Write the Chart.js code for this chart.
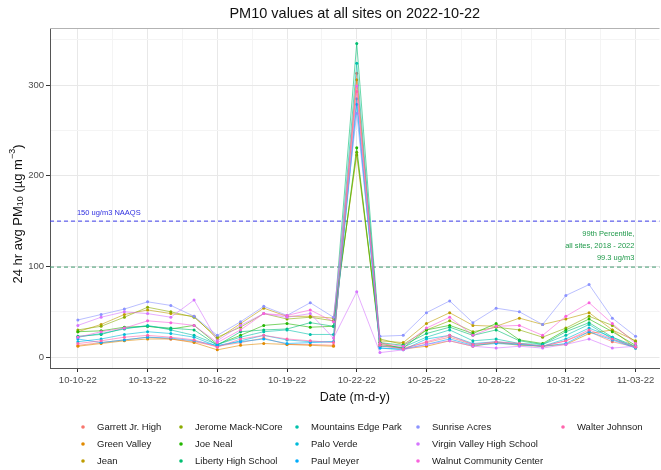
<!DOCTYPE html>
<html><head><meta charset="utf-8">
<script src="https://cdn.jsdelivr.net/npm/chart.js@4/dist/chart.umd.min.js"></script>
<style>html,body{margin:0;padding:0;background:#fff;overflow:hidden}#wrap{width:661px;height:470px;position:relative}</style>
</head><body><div id="wrap"><canvas id="c" width="661" height="470"></canvas></div>
<script>
const dates = ['10-10-22','10-11-22','10-12-22','10-13-22','10-14-22','10-15-22','10-16-22','10-17-22','10-18-22','10-19-22','10-20-22','10-21-22','10-22-22','10-23-22','10-24-22','10-25-22','10-26-22','10-27-22','10-28-22','10-29-22','10-30-22','10-31-22','11-01-22','11-02-22','11-03-22'];
const tickLabels = ['10-10-22','10-13-22','10-16-22','10-19-22','10-22-22','10-25-22','10-28-22','10-31-22','11-03-22'];
const yTickValues = [0,100,200,300];
const sites = ['Garrett Jr. High','Green Valley','Jean','Jerome Mack-NCore','Joe Neal','Liberty High School','Mountains Edge Park','Palo Verde','Paul Meyer','Sunrise Acres','Virgin Valley High School','Walnut Community Center','Walter Johnson'];
const siteColors = ['#F8766D','#E18A00','#BE9C00','#8CAB00','#24B700','#00BE70','#00C1AB','#00BBDA','#00ACFC','#8B93FF','#D575FE','#F962DD','#FF65AC'];

const garrettJrHigh    = [13,16,19,22,20,17,12,16,21,14,14,13,313,12,10,16,22,14,16,15,12,18,28,17,11];
const greenValley      = [12,15,18,20,20,16,8,13,15,14,13,12,306,16,9,12,18,12,16,13,12,14,26,30,10];
const jean             = [28,36,47,52,48,45,20,37,54,45,45,43,223,18,16,37,49,35,34,43,36,42,49,30,18];
const jeromeMack       = [30,34,44,55,50,44,22,33,48,42,44,40,226,20,14,30,40,28,33,30,22,32,45,35,17];
const joeNeal          = [28,29,33,34,31,35,14,24,35,37,33,34,231,14,10,30,35,26,37,19,15,30,42,28,13];
const libertyHigh      = [23,25,32,34,32,30,13,28,30,31,38,34,346,16,13,26,33,24,30,18,14,28,38,22,12];
const mountainsEdge    = [22,26,31,35,30,24,14,22,28,30,25,25,324,12,11,22,30,18,20,15,14,24,36,20,11];
const paloVerde        = [17,20,25,28,26,22,12,18,24,19,17,17,285,10,8,20,24,15,17,14,12,20,32,22,10];
const paulMeyer        = [20,16,19,22,21,18,13,17,20,15,16,17,279,10,9,14,20,13,15,14,12,15,28,19,10];
const sunriseAcres     = [41,47,53,61,57,45,24,39,56,46,60,44,269,23,24,49,62,38,54,50,36,68,80,43,23];
const virginValley     = [35,44,50,48,44,63,18,35,48,44,48,21,72,5,8,14,18,12,10,12,10,14,20,10,12];
const walnutCommunity  = [22,28,32,40,38,35,16,30,48,46,52,39,299,15,12,32,44,24,34,35,24,45,60,37,15];
const walterJohnson    = [15,18,22,24,22,19,11,20,24,20,18,16,293,13,9,17,24,14,17,15,12,18,30,20,11];

const seriesValues = [garrettJrHigh,greenValley,jean,jeromeMack,joeNeal,libertyHigh,mountainsEdge,paloVerde,paulMeyer,sunriseAcres,virginValley,walnutCommunity,walterJohnson];

const naaqs = 150;
const pct99 = 99.3;

function hexA(hex, a){
  const r=parseInt(hex.slice(1,3),16),g=parseInt(hex.slice(3,5),16),b=parseInt(hex.slice(5,7),16);
  return `rgba(${r},${g},${b},${a})`;
}

const datasets = sites.map((s,i)=>({
  label: s,
  data: seriesValues[i].map((v,j)=>({x:j,y:v})),
  borderColor: hexA(siteColors[i],0.75),
  backgroundColor: siteColors[i],
  pointBackgroundColor: siteColors[i],
  pointBorderWidth: 0,
  pointRadius: 1.5,
  pointHoverRadius: 1.5,
  borderWidth: 0.8,
  tension: 0,
  order: -i
}));

const FONT = '"Liberation Sans", Arial, sans-serif';

const deco = {
  id:'deco',
  beforeDatasetsDraw(chart){
    const {ctx, chartArea:a, scales:{x,y}} = chart;
    ctx.save();
    ctx.lineWidth = 1;
    ctx.setLineDash([4,3]);
    let py = y.getPixelForValue(naaqs);
    ctx.strokeStyle = '#3b3bea';
    ctx.beginPath(); ctx.moveTo(a.left,py); ctx.lineTo(a.right,py); ctx.stroke();
    let gy = y.getPixelForValue(pct99);
    ctx.strokeStyle = '#3f9a6f';
    ctx.beginPath(); ctx.moveTo(a.left,gy); ctx.lineTo(a.right,gy); ctx.stroke();
    ctx.setLineDash([]);
    ctx.font = '7.5px ' + FONT;
    ctx.fillStyle = '#3030e0';
    ctx.textAlign = 'left'; ctx.textBaseline = 'middle';
    ctx.fillText('150 ug/m3 NAAQS', x.getPixelForValue(0)-1, py-8);
    ctx.fillStyle = '#1f9a4a';
    ctx.textAlign = 'right';
    const rx = x.getPixelForValue(23.95);
    ctx.fillText('99th Percentile,', rx, gy-33);
    ctx.fillText('all sites, 2018 - 2022', rx, gy-21);
    ctx.fillText('99.3 ug/m3', rx, gy-9);
    ctx.restore();
  },
  afterDraw(chart){
    const {ctx, chartArea:a} = chart;
    ctx.save();
    ctx.strokeStyle = '#b3b3b3'; ctx.lineWidth = 1;
    ctx.beginPath(); ctx.moveTo(a.left, a.top+0.5); ctx.lineTo(a.right, a.top+0.5); ctx.stroke();
    ctx.fillStyle = '#111';
    ctx.font = '14.5px ' + FONT;
    ctx.textAlign = 'center'; ctx.textBaseline = 'middle';
    ctx.fillText('PM10 values at all sites on 2022-10-22', (a.left+a.right)/2, 14);
    ctx.font = '12.5px ' + FONT;
    ctx.fillText('Date (m-d-y)', (a.left+a.right)/2, 398);
    ctx.translate(18, 214);
    ctx.rotate(-Math.PI/2);
    const parts = [
      {t:'24 hr avg PM', f:'13px', dy:0},
      {t:'10', f:'9px', dy:3},
      {t:' (\u00B5g m', f:'13px', dy:0},
      {t:'\u22123', f:'9px', dy:-5},
      {t:')', f:'13px', dy:0}
    ];
    let w = 0;
    parts.forEach(p=>{ctx.font = p.f+' '+FONT; p.w = ctx.measureText(p.t).width; w += p.w;});
    let cx = -w/2;
    ctx.textAlign = 'left';
    parts.forEach(p=>{ctx.font = p.f+' '+FONT; ctx.fillText(p.t, cx, p.dy); cx += p.w;});
    ctx.restore();
    ctx.save();
    const colX = [83,181,297,418,563];
    const rowY = [427,444,461];
    ctx.font = '9.5px ' + FONT;
    ctx.textAlign = 'left'; ctx.textBaseline = 'middle';
    sites.forEach((s,i)=>{
      const c = Math.floor(i/3), r = i%3;
      ctx.fillStyle = siteColors[i];
      ctx.beginPath(); ctx.arc(colX[c], rowY[r], 1.8, 0, Math.PI*2); ctx.fill();
      ctx.fillStyle = '#1a1a1a';
      ctx.fillText(s, colX[c]+14, rowY[r]);
    });
    ctx.restore();
  }
};

new Chart(document.getElementById('c'), {
  type:'line',
  data:{datasets},
  plugins:[deco],
  options:{
    responsive:false,
    animation:false,
    events:[],
    layout:{padding:{top:28,right:0,bottom:72,left:0}},
    plugins:{legend:{display:false},title:{display:false},tooltip:{enabled:false}},
    scales:{
      x:{
        type:'linear', min:-1.2, max:25.03,
        afterBuildTicks(s){ const t=[]; for(let v=0; v<=24; v+=1.5) t.push({value:v}); s.ticks=t; },
        afterFit(s){ s.height = 30; },
        ticks:{autoSkip:false, maxRotation:0, minRotation:0, padding:3, color:'#4d4d4d', font:{family:FONT,size:9.5},
          callback(v){ return (v%3===0 && tickLabels.includes(dates[v])) ? dates[v] : ''; }},
        grid:{drawOnChartArea:true, tickLength:4,
          color(c){ return (c.tick && c.tick.value%3===0) ? '#e8e8e8' : '#f4f4f4'; },
          tickColor(c){ return (c.tick && c.tick.value%3===0) ? '#333' : 'rgba(0,0,0,0)'; }},
        border:{display:true, color:'#555', width:1}
      },
      y:{
        type:'linear', min:-12, max:363,
        afterBuildTicks(s){ const t=[]; for(let v=0; v<=350; v+=50) t.push({value:v}); s.ticks=t; },
        afterFit(s){ s.width = 50; },
        ticks:{padding:2, color:'#4d4d4d', font:{family:FONT,size:9.5},
          callback(v){ return yTickValues.includes(v) ? String(v) : ''; }},
        grid:{tickLength:4,
          color(c){ return (c.tick && c.tick.value%100===0) ? '#e8e8e8' : '#f4f4f4'; },
          tickColor(c){ return (c.tick && c.tick.value%100===0) ? '#333' : 'rgba(0,0,0,0)'; }},
        border:{display:true, color:'#555', width:1}
      }
    }
  }
});
</script>
</body></html>
